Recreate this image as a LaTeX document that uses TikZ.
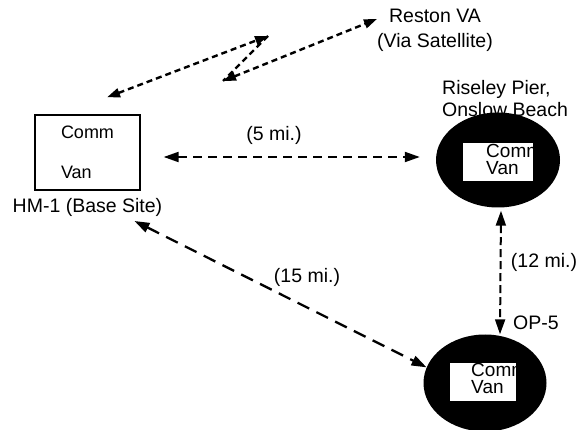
\documentclass[tikz,border=0pt]{standalone}
\usepackage{fontspec}
\setmainfont{Liberation Sans}
\usetikzlibrary{arrows.meta,shapes.geometric}

\begin{document}
\begin{tikzpicture}[
    x=1pt, y=-1pt,
    every node/.style={font=\fontsize{19.5}{23}\selectfont, inner sep=0pt},
    vanbox/.style={rectangle, draw, line width=1.3pt, minimum width=105pt, minimum height=75pt, align=left, font=\fontsize{18}{18}\selectfont},
    site/.style={ellipse, fill=black, minimum width=124pt, minimum height=95pt},
    vanpatch/.style={rectangle, fill=white, minimum width=#1, minimum height=38pt,
        path picture={\node[anchor=west, align=left, font=\fontsize{19}{16.5}\selectfont]
            at ([xshift=16pt,yshift=3pt]path picture bounding box.west) {Comm\\Van};}},
    link/.style={line width=2pt, dash pattern=on 9pt off 6pt, {Triangle[length=15pt,width=10pt]}-{Triangle[length=15pt,width=10pt]}},
    radio/.style={line width=2.4pt, dash pattern=on 6pt off 4pt}
]
\useasboundingbox (0,0) rectangle (581,430);

% sites
\node[vanbox] (van) at (87.5,152.5) {Comm\\[22pt]Van};
\node (hm) at (87.5,207) {HM-1 (Base Site)};

\node[align=center, font=\fontsize{19.5}{25}\selectfont] (reston) at (435,30) {Reston VA\\(Via Satellite)};

\node[anchor=west, align=left, font=\fontsize{19.5}{22}\selectfont] (riseley) at (442,99) {Riseley Pier,\\Onslow Beach};
\node[site] (pier) at (498,160) {};
\node[vanpatch=70pt] (piervan) at (498,162.5) {};

\node[site, minimum width=123pt, minimum height=97pt] (op) at (485,383) {};
\node[vanpatch=66pt] (opvan) at (483,381.5) {};
\node (oplabel) at (536,323) {OP-5};

% distances
\node (d5) at (274,135) {(5 mi.)};
\node (d12) at (544,262) {(12 mi.)};
\node (d15) at (307,277) {(15 mi.)};

% satellite hop
\coordinate (sat1) at (268,36);
\coordinate (sat2) at (223,81);
\draw[radio, {Triangle[length=13pt,width=9pt]}-{Triangle[length=13pt,width=9pt]}] ([xshift=19.5pt,yshift=17pt]van.north) -- (sat1);
\draw[radio] (sat1) -- (sat2);
\draw[radio, {Triangle[length=13pt,width=9pt]}-{Triangle[length=13pt,width=9pt]}] (sat2) -- ([yshift=11pt]reston.west);

% ground links
\draw[link] ([xshift=23pt,yshift=-4.5pt]van.east) -- ([xshift=-16pt,yshift=3pt]pier.west);
\draw[link, dash pattern=on 8pt off 4pt] ([xshift=3pt,yshift=-3pt]pier.south) -- ([xshift=15pt]op.north);
\draw[link, line width=2.3pt, dash pattern=on 13pt off 8pt] ([xshift=-28pt,yshift=-14pt]hm.east) -- (op.165);
\end{tikzpicture}
\end{document}
